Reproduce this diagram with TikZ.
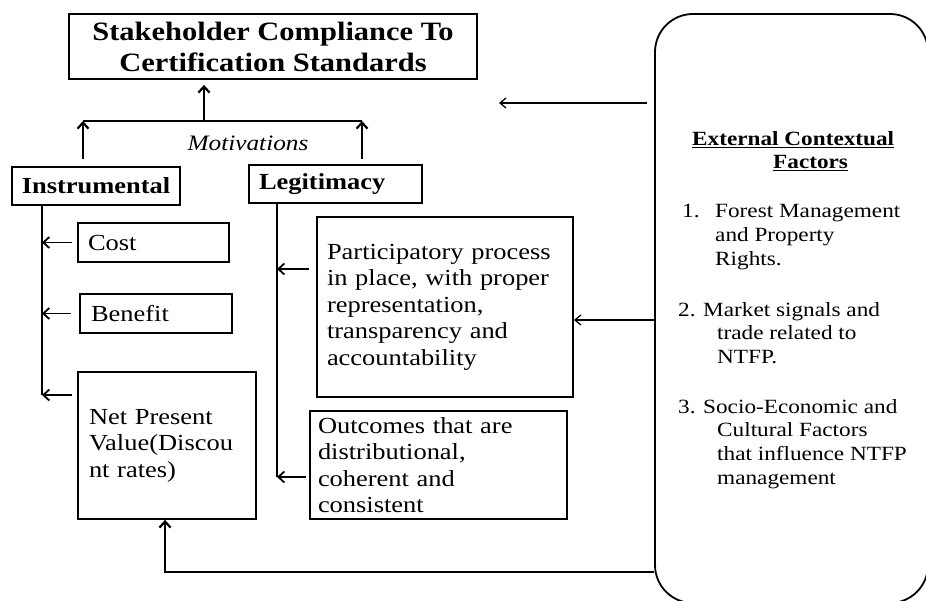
\documentclass[tikz,border=0pt]{standalone}
\usepackage{fontspec}
\setmainfont{Liberation Serif}[FakeStretch=1.15]
\usetikzlibrary{arrows.meta}
\tikzset{
  frame box/.style={
    draw,
    line width=1.8pt,
    inner sep=0pt,
    align=left,
  },
  title text/.style={font=\fontsize{26.5}{31}\selectfont\bfseries},
  head text/.style={font=\fontsize{23}{26.5}\selectfont\bfseries},
  body text/.style={font=\fontsize{23}{26.5}\selectfont},
  context text/.style={font=\fontsize{20.2}{23.7}\selectfont, inner sep=0pt, align=left, anchor=west},
  link/.style={line width=1.8pt, -{Straight Barb[length=6pt,width=11pt]}},
  thin link/.style={line width=1.3pt, -{Straight Barb[length=6pt,width=10pt]}},
}

\begin{document}
\begin{tikzpicture}[x=1pt, y=-1pt]
  \useasboundingbox (0,0) rectangle (926,601);
  \clip (0,0) rectangle (926,601);

  % boxes
  \node [frame box, title text, align=center, minimum width=408pt, minimum height=65pt] (title) at (273,46.5) {Stakeholder Compliance To\\Certification Standards};
  \node [frame box, head text, align=center, minimum width=168pt, minimum height=38pt] (instr) at (96,186) {Instrumental};
  \node [frame box, head text, minimum width=173pt, minimum height=38pt, text width=153pt] (legit) at (335.5,184) {Legitimacy};
  \node [frame box, body text, minimum width=151pt, minimum height=39pt, text width=131pt] (cost) at (153.5,242.5) {Cost};
  \node [frame box, body text, minimum width=152pt, minimum height=39pt, text width=130pt] (benefit) at (156,313.5) {Benefit};
  \node [frame box, body text, minimum width=178pt, minimum height=147pt, text width=156pt] (npv) at (167,445.5) {Net Present\\Value(Discou\\nt rates)};
  \node [frame box, body text, minimum width=256pt, minimum height=180pt, text width=236pt] (particip) at (445,307) {Participatory process\\in place, with proper\\representation,\\transparency and\\accountability};
  \node [frame box, body text, minimum width=257pt, minimum height=108pt, text width=241pt] (outcomes) at (438.5,465) {Outcomes that are\\distributional,\\coherent and\\consistent};
  \node [frame box, rounded corners=38pt, minimum width=273pt, minimum height=589pt] (ext) at (791.5,308.5) {};

  \node [body text, font=\fontsize{22}{26}\selectfont\itshape, inner sep=0pt] (motiv) at (248,143) {Motivations};

  % motivations bar
  \coordinate (bar-l) at (83,121);
  \coordinate (bar-r) at (362,121);
  \coordinate (bar-m) at (204,121);
  \draw [line width=2.2pt] (bar-l) -- (bar-r);
  \draw [link, line width=2.2pt] (bar-m) -- ([yshift=-5pt]title.south -| bar-m);
  \draw [link, line width=2.2pt] ([yshift=7pt]instr.north -| bar-l) -- (bar-l);
  \draw [link, line width=2.2pt] ([yshift=5pt]legit.north -| bar-r) -- (bar-r);

  % instrumental branch
  \coordinate (i-end) at (42,395);
  \draw [line width=1.8pt] (instr.south -| i-end) -- (i-end);
  \draw [link] ([xshift=-5pt]cost.west) -- (cost.west -| i-end);
  \draw [link] ([xshift=-8pt]benefit.west) -- (benefit.west -| i-end);
  \draw [link] ([xshift=-5pt]npv.west |- i-end) -- (i-end);

  % legitimacy branch
  \coordinate (l-end) at (277,477);
  \draw [line width=1.8pt] (legit.south -| l-end) -- (l-end);
  \coordinate (p-in) at ([yshift=38pt]particip.west);
  \draw [link] ([xshift=-7pt]p-in) -- (p-in -| l-end);
  \draw [link] ([xshift=-3pt]outcomes.west |- l-end) -- (l-end);

  % external factors
  \coordinate (t-in) at (499,103);
  \draw [thin link] ([xshift=-7pt]ext.west |- t-in) -- (t-in);
  \coordinate (p-out) at ([yshift=-13pt]particip.east);
  \draw [thin link] (ext.west |- p-out) -- (p-out);
  \coordinate (b-turn) at (165,572);
  \draw [link, line width=2.2pt] (ext.west |- b-turn) -- (b-turn) -- (npv.south -| b-turn);

  \node [context text, font=\fontsize{20.2}{23.7}\selectfont\bfseries] (ext-head) at (692,151) {\underline{External Contextual}\\\hspace*{81pt}\underline{Factors}};
  \node [context text] (ext-1) at (682,237) {\makebox[33pt][l]{1.}Forest Management\\\hspace*{33pt}and Property\\\hspace*{33pt}Rights.};
  \node [context text] (ext-2) at (678,333) {\makebox[25pt][l]{2.}Market signals and\\\hspace*{39pt}trade related to\\\hspace*{39pt}NTFP.};
  \node [context text] (ext-3) at (678,444) {\makebox[25pt][l]{3.}Socio-Economic and\\\hspace*{39pt}Cultural Factors\\\hspace*{39pt}that influence NTFP\\\hspace*{39pt}management};
\end{tikzpicture}
\end{document}
